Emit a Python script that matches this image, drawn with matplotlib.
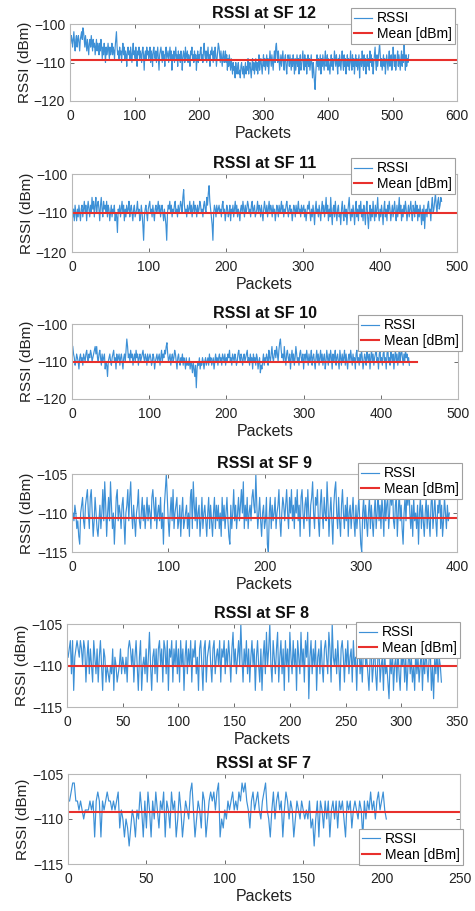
import numpy as np
import matplotlib
matplotlib.use("Agg")
import matplotlib.pyplot as plt

plt.rcParams['font.family'] = ['Liberation Sans', 'DejaVu Sans']

# ---------------- data ----------------
sf12 = [
-105,-103,-104,-106,-104,-102,-105,-107,-104,-103,
-106,-104,-103,-105,-107,-104,-103,-102,-104,-101,
-102,-104,-106,-103,-105,-107,-104,-106,-108,-105,
-104,-106,-103,-105,-107,-104,-106,-105,-108,-106,
-104,-107,-105,-106,-108,-105,-107,-104,-106,-109,
-106,-108,-105,-107,-110,-106,-108,-107,-105,-107,
-109,-106,-108,-107,-105,-108,-106,-107,-109,-106,
-104,-102,-106,-108,-107,-109,-106,-108,-107,-110,
-107,-105,-108,-106,-109,-107,-108,-111,-107,-106,
-108,-107,-109,-106,-108,-110,-107,-105,-108,-107,
-109,-106,-108,-111,-107,-108,-106,-109,-107,-108,
-110,-107,-106,-108,-112,-108,-107,-109,-106,-108,
-107,-109,-108,-106,-110,-107,-108,-111,-107,-106,
-108,-109,-107,-110,-108,-106,-109,-112,-108,-107,
-106,-108,-110,-107,-109,-108,-111,-107,-106,-109,
-108,-107,-110,-108,-106,-109,-107,-112,-108,-109,
-107,-110,-108,-106,-109,-108,-111,-107,-109,-108,
-110,-107,-108,-112,-109,-107,-108,-110,-106,-109,
-108,-107,-110,-108,-109,-111,-107,-108,-106,-109,
-108,-110,-107,-109,-108,-112,-109,-107,-110,-108,
-109,-107,-106,-109,-108,-110,-107,-105,-108,-109,
-107,-110,-108,-106,-109,-108,-111,-107,-108,-106,
-108,-110,-107,-109,-106,-108,-111,-109,-107,-105,
-106,-108,-110,-107,-109,-111,-108,-107,-110,-109,
-107,-110,-108,-112,-109,-111,-108,-110,-112,-109,
-111,-113,-110,-112,-111,-114,-110,-112,-113,-111,
-110,-113,-112,-114,-111,-110,-112,-113,-111,-114,
-112,-110,-113,-111,-112,-109,-113,-111,-110,-112,
-114,-111,-109,-112,-110,-113,-111,-109,-112,-110,
-113,-111,-108,-112,-110,-109,-111,-113,-110,-108,
-111,-109,-112,-110,-108,-111,-109,-113,-110,-107,
-109,-111,-108,-110,-112,-109,-107,-110,-106,-105,
-108,-110,-107,-109,-112,-110,-108,-111,-109,-107,
-110,-112,-109,-108,-111,-113,-110,-108,-109,-111,
-108,-110,-112,-109,-111,-108,-110,-113,-109,-112,
-110,-108,-111,-109,-113,-110,-108,-112,-111,-109,
-107,-110,-112,-108,-111,-109,-113,-110,-108,-111,
-109,-112,-110,-108,-111,-114,-110,-112,-115,-117,
-113,-110,-108,-111,-109,-112,-110,-108,-113,-109,
-111,-108,-110,-112,-109,-107,-111,-110,-108,-112,
-109,-111,-113,-110,-108,-111,-109,-112,-110,-107,
-109,-111,-108,-110,-113,-109,-111,-108,-110,-112,
-109,-107,-110,-112,-108,-111,-109,-113,-110,-108,
-111,-109,-112,-110,-107,-110,-112,-108,-111,-109,
-113,-110,-108,-111,-109,-112,-110,-108,-114,-110,
-109,-111,-107,-110,-112,-108,-111,-109,-113,-110,
-108,-111,-109,-112,-107,-110,-108,-111,-109,-113,
-110,-108,-106,-110,-112,-108,-111,-109,-107,-105,
-108,-111,-109,-112,-110,-108,-111,-109,-113,-110,
-108,-110,-112,-109,-107,-111,-109,-108,-112,-110,
-106,-109,-111,-108,-112,-110,-109,-107,-111,-108,
-110,-112,-109,-107,-111,-108,-110,-105,-109,-112,
-108,-111,-109,-110,-108]

sf11 = [
-111,-109,-112,-108,-110,-112,-109,-111,-108,-110,
-112,-109,-108,-111,-109,-107,-110,-108,-112,-109,
-107,-109,-111,-108,-110,-106,-109,-107,-111,-108,
-106,-110,-108,-107,-109,-112,-108,-106,-109,-111,
-107,-109,-108,-110,-107,-111,-108,-109,-112,-110,
-108,-111,-109,-110,-108,-112,-110,-111,-115,-109,
-110,-108,-111,-109,-107,-110,-108,-112,-109,-111,
-108,-110,-109,-107,-111,-109,-108,-110,-112,-109,
-108,-111,-110,-109,-107,-110,-109,-112,-111,-108,
-110,-113,-117,-111,-109,-108,-110,-112,-109,-108,
-107,-110,-109,-111,-108,-110,-112,-109,-108,-110,
-109,-107,-110,-108,-111,-109,-108,-110,-112,-109,
-111,-113,-117,-110,-108,-109,-107,-110,-108,-111,
-109,-110,-108,-107,-110,-109,-111,-108,-110,-109,
-107,-108,-110,-106,-104,-108,-110,-109,-111,-108,
-110,-109,-107,-110,-108,-111,-109,-107,-110,-108,
-109,-111,-108,-110,-109,-107,-108,-110,-109,-111,
-108,-107,-109,-110,-106,-108,-105,-103,-107,-109,
-111,-113,-117,-110,-108,-109,-111,-108,-110,-109,
-108,-110,-109,-111,-108,-107,-110,-109,-112,-110,
-108,-109,-111,-110,-108,-112,-109,-110,-108,-111,
-109,-107,-110,-108,-111,-109,-110,-112,-109,-108,
-110,-107,-109,-111,-108,-110,-109,-107,-108,-110,
-109,-111,-108,-107,-110,-109,-108,-111,-110,-109,
-107,-110,-108,-109,-111,-108,-110,-112,-109,-107,
-109,-110,-108,-111,-109,-107,-110,-108,-109,-111,
-108,-110,-109,-112,-110,-108,-109,-111,-108,-110,
-109,-107,-110,-108,-111,-109,-110,-108,-107,-109,
-111,-109,-108,-110,-109,-112,-110,-108,-109,-111,
-108,-110,-109,-107,-110,-109,-111,-108,-110,-109,
-108,-111,-109,-112,-110,-108,-109,-107,-110,-112,
-109,-111,-108,-110,-113,-109,-107,-110,-109,-111,
-108,-110,-112,-109,-107,-110,-108,-111,-109,-106,
-110,-108,-112,-109,-111,-106,-110,-113,-109,-108,
-111,-107,-110,-112,-109,-108,-111,-110,-113,-109,
-107,-110,-112,-108,-111,-109,-113,-110,-108,-106,
-110,-112,-109,-111,-108,-110,-113,-109,-107,-111,
-109,-112,-108,-110,-107,-111,-109,-112,-108,-110,
-113,-109,-107,-111,-114,-110,-108,-112,-109,-111,
-107,-110,-112,-108,-111,-109,-106,-110,-112,-109,
-111,-108,-110,-113,-109,-107,-111,-109,-112,-108,
-110,-107,-109,-112,-110,-108,-111,-109,-107,-110,
-112,-108,-111,-109,-106,-110,-108,-112,-109,-111,
-108,-110,-107,-109,-112,-110,-108,-111,-109,-107,
-110,-112,-108,-109,-111,-107,-110,-108,-112,-109,
-111,-108,-110,-113,-109,-112,-108,-114,-110,-109,
-111,-108,-107,-110,-109,-112,-108,-106,-110,-109,
-107,-105,-108,-110,-107,-106,-109,-108,-106,-107]

sf10 = [
-106,-108,-109,-111,-110,-108,-109,-110,-112,-109,
-108,-110,-109,-111,-108,-109,-110,-108,-107,-109,
-110,-108,-109,-107,-108,-110,-109,-108,-107,-106,
-108,-106,-109,-110,-108,-107,-109,-111,-108,-110,
-109,-108,-112,-110,-111,-114,-110,-109,-108,-110,
-111,-109,-108,-107,-110,-109,-112,-108,-110,-109,
-108,-111,-109,-108,-110,-112,-109,-108,-110,-107,
-104,-106,-109,-108,-110,-107,-109,-108,-111,-109,
-108,-110,-107,-109,-108,-111,-109,-108,-110,-109,
-108,-107,-109,-110,-108,-109,-111,-108,-110,-109,
-108,-109,-111,-110,-108,-109,-112,-110,-109,-108,
-110,-109,-108,-111,-109,-107,-110,-108,-109,-107,
-108,-106,-105,-108,-110,-109,-108,-111,-109,-108,
-110,-109,-107,-108,-110,-112,-109,-108,-110,-111,
-109,-110,-108,-111,-109,-110,-112,-109,-111,-110,
-111,-109,-112,-110,-111,-113,-110,-112,-114,-111,
-117,-112,-110,-111,-109,-112,-110,-111,-109,-110,
-112,-110,-109,-111,-110,-109,-111,-108,-110,-109,
-111,-110,-109,-112,-110,-108,-110,-109,-111,-109,
-108,-110,-109,-111,-108,-109,-110,-108,-111,-109,
-110,-108,-109,-107,-110,-109,-111,-108,-109,-110,
-108,-109,-111,-110,-108,-107,-109,-110,-108,-109,
-111,-109,-108,-110,-109,-108,-107,-110,-109,-111,
-108,-110,-109,-112,-108,-110,-109,-111,-108,-109,
-112,-110,-109,-113,-111,-112,-110,-108,-111,-109,
-110,-108,-109,-111,-107,-109,-110,-108,-106,-109,
-110,-108,-107,-109,-106,-108,-110,-107,-105,-104,
-107,-109,-108,-110,-106,-109,-111,-108,-107,-109,
-110,-108,-112,-109,-107,-110,-108,-111,-109,-106,
-108,-110,-109,-111,-108,-107,-109,-110,-108,-112,
-109,-108,-110,-107,-109,-111,-108,-110,-109,-107,
-111,-109,-108,-110,-112,-109,-107,-110,-108,-111,
-109,-107,-110,-108,-111,-109,-108,-112,-110,-107,
-109,-111,-108,-110,-107,-109,-112,-108,-110,-109,
-107,-111,-109,-108,-110,-112,-107,-109,-111,-108,
-110,-109,-107,-111,-108,-110,-112,-109,-108,-110,
-107,-109,-111,-108,-110,-109,-112,-108,-107,-110,
-109,-111,-108,-110,-107,-109,-112,-110,-108,-109,
-111,-107,-109,-110,-108,-112,-109,-107,-110,-108,
-111,-109,-108,-106,-110,-109,-112,-108,-107,-110,
-109,-111,-108,-107,-110,-109,-112,-108,-106,-110,
-109,-111,-107,-109,-110,-108,-112,-109,-107,-110,
-108,-111,-109,-106,-110,-108,-107,-109,-111,-108,
-110,-107,-109,-108,-110,-109,-111]

sf9 = [
-110,-111,-109,-110,-112,-111,-113,-114,-110,-109,
-108,-111,-112,-109,-108,-107,-110,-112,-108,-107,
-110,-113,-111,-108,-110,-112,-113,-111,-109,-112,
-110,-107,-111,-106,-109,-113,-110,-108,-111,-106,
-109,-112,-110,-114,-111,-108,-107,-111,-109,-110,
-112,-109,-108,-111,-114,-110,-109,-107,-111,-108,
-106,-110,-112,-109,-111,-113,-110,-109,-107,-111,
-112,-110,-108,-111,-109,-112,-110,-108,-111,-109,
-110,-112,-108,-107,-109,-111,-108,-112,-110,-109,
-111,-108,-112,-110,-114,-109,-107,-105,-108,-111,
-113,-110,-108,-111,-107,-112,-110,-109,-108,-112,
-111,-109,-113,-110,-108,-112,-111,-110,-109,-112,
-110,-113,-108,-107,-112,-106,-109,-111,-108,-112,
-110,-109,-113,-111,-108,-112,-110,-109,-111,-113,
-110,-108,-112,-109,-111,-113,-110,-108,-112,-109,
-111,-109,-112,-110,-113,-108,-111,-109,-112,-110,
-108,-111,-113,-114,-109,-112,-110,-107,-111,-109,
-112,-110,-108,-111,-109,-107,-110,-106,-112,-109,
-111,-108,-112,-110,-109,-111,-108,-107,-109,-110,
-105,-109,-112,-110,-108,-111,-113,-110,-109,-112,
-111,-108,-114,-115,-110,-108,-112,-109,-111,-110,
-108,-112,-110,-109,-107,-111,-113,-110,-108,-109,
-111,-109,-107,-110,-112,-108,-110,-107,-111,-109,
-112,-108,-110,-107,-111,-109,-113,-108,-107,-110,
-112,-109,-108,-111,-107,-110,-113,-109,-108,-106,
-110,-112,-108,-109,-107,-111,-113,-109,-107,-110,
-112,-108,-110,-111,-106,-109,-113,-110,-108,-111,
-114,-109,-107,-106,-110,-112,-108,-111,-113,-109,
-107,-110,-112,-109,-111,-108,-113,-110,-109,-112,
-110,-108,-111,-113,-109,-112,-110,-108,-111,-114,
-115,-110,-108,-112,-109,-111,-113,-110,-108,-112,
-109,-111,-113,-110,-108,-112,-110,-107,-111,-109,
-112,-108,-110,-113,-107,-111,-109,-108,-112,-110,
-107,-109,-106,-111,-112,-109,-108,-113,-110,-107,
-111,-109,-112,-114,-110,-108,-111,-107,-109,-106,
-110,-112,-109,-113,-108,-111,-110,-112,-109,-114,
-110,-108,-112,-109,-111,-113,-110,-108,-112,-109,
-111,-113,-109,-107,-112,-110,-108,-111,-113,-109,
-110,-106,-112,-109,-113,-111,-108,-110,-112,-109,
-111,-110]

sf8 = [
-109,-108,-107,-111,-107,-113,-109,-108,-107,-108,
-109,-107,-108,-110,-107,-108,-112,-109,-107,-111,
-108,-110,-112,-107,-109,-111,-108,-112,-109,-107,
-110,-113,-108,-109,-112,-110,-111,-112,-110,-111,
-108,-113,-109,-110,-112,-111,-110,-108,-111,-109,
-110,-111,-109,-112,-108,-107,-108,-110,-108,-112,
-109,-107,-110,-113,-109,-107,-113,-110,-109,-111,
-108,-112,-109,-106,-110,-113,-109,-108,-111,-108,
-112,-108,-107,-110,-108,-112,-107,-108,-111,-107,
-113,-108,-109,-107,-112,-108,-110,-107,-111,-108,
-112,-107,-110,-108,-113,-109,-107,-111,-108,-110,
-107,-112,-108,-109,-107,-111,-109,-113,-108,-107,
-110,-113,-108,-107,-112,-109,-108,-107,-110,-112,
-108,-107,-111,-109,-108,-110,-107,-112,-108,-109,
-107,-111,-108,-110,-107,-109,-112,-108,-106,-110,
-108,-111,-109,-107,-110,-105,-109,-112,-108,-110,
-107,-111,-108,-112,-109,-107,-110,-108,-113,-109,
-107,-110,-112,-108,-113,-109,-107,-111,-106,-110,
-108,-105,-110,-112,-107,-109,-111,-108,-106,-112,
-109,-107,-111,-108,-113,-107,-110,-108,-112,-106,
-109,-111,-107,-110,-108,-113,-107,-109,-111,-106,
-110,-108,-112,-107,-109,-106,-114,-109,-107,-111,
-108,-110,-107,-113,-109,-108,-111,-107,-110,-112,
-108,-107,-109,-111,-106,-108,-112,-105,-109,-110,
-108,-111,-107,-110,-113,-108,-107,-109,-112,-108,
-110,-107,-111,-109,-108,-112,-107,-110,-109,-113,
-108,-107,-111,-109,-112,-108,-106,-110,-109,-111,
-113,-109,-108,-112,-110,-107,-111,-113,-109,-108,
-112,-110,-109,-113,-108,-111,-110,-112,-114,-109,
-111,-108,-113,-110,-109,-112,-108,-111,-113,-109,
-110,-108,-112,-109,-113,-110,-108,-111,-109,-112,
-110,-113,-108,-111,-109,-112,-110,-108,-113,-109,
-111,-108,-110,-112,-109,-108,-113,-110,-114,-109,
-111,-108,-112,-109,-110,-112]

sf7 = [
-108,-107,-106,-106,-108,-108,-109,-108,-109,-110,
-109,-109,-109,-108,-109,-108,-112,-108,-107,-108,
-112,-108,-109,-108,-107,-108,-108,-109,-108,-109,
-108,-107,-111,-109,-110,-112,-110,-111,-113,-111,
-109,-110,-112,-109,-110,-107,-109,-112,-108,-111,
-107,-109,-112,-108,-110,-107,-109,-111,-108,-109,
-107,-112,-108,-109,-111,-107,-109,-108,-112,-110,
-107,-109,-112,-110,-108,-109,-110,-107,-106,-109,
-112,-110,-108,-109,-111,-107,-108,-112,-110,-108,
-107,-108,-107,-109,-107,-106,-112,-110,-111,-109,
-110,-108,-109,-108,-107,-109,-108,-109,-107,-108,
-106,-107,-106,-108,-109,-111,-108,-107,-109,-108,
-107,-109,-110,-108,-107,-106,-109,-110,-112,-109,
-107,-110,-108,-107,-109,-108,-112,-109,-107,-108,
-110,-108,-109,-112,-110,-108,-109,-110,-108,-109,
-110,-109,-110,-108,-111,-110,-113,-110,-108,-112,
-108,-109,-111,-108,-110,-108,-112,-109,-108,-110,
-108,-111,-108,-109,-108,-110,-112,-108,-109,-108,
-111,-109,-108,-109,-110,-108,-109,-112,-108,-110,
-108,-109,-107,-109,-108,-110,-108,-107,-109,-108,
-107,-109,-110]

series = [sf12, sf11, sf10, sf9, sf8, sf7]
titles = ["RSSI at SF 12", "RSSI at SF 11", "RSSI at SF 10",
          "RSSI at SF 9", "RSSI at SF 8", "RSSI at SF 7"]
means = [-109.4, -109.9, -110.0, -110.6, -110.0, -109.2]
mean_end = [600, 500, 447, 400, 350, 250]
xlims = [600, 500, 500, 400, 350, 250]
xsteps = [100, 100, 100, 100, 50, 50]
ylims = [(-120, -100), (-120, -100), (-120, -100),
         (-115, -105), (-115, -105), (-115, -105)]
ysteps = [10, 10, 10, 5, 5, 5]

# ---------------- layout (pixels) ----------------
W, H = 475, 911
boxes = [(70, 457, 24, 101), (72, 457, 174, 252), (72, 458, 324, 399),
         (72, 457, 474, 552), (67, 457, 624, 707), (68, 460, 774, 864)]
legend_anchor = [(455, 8, 'upper right'), (455, 158, 'upper right'),
                 (462, 315, 'upper right'), (462, 463, 'upper right'),
                 (460, 622, 'upper right'), (463, 865, 'lower right')]

fig = plt.figure(figsize=(W / 100, H / 100), dpi=100)
blue = '#3d90d6'
red = '#e8302c'

for i in range(6):
    l, r, t, b = boxes[i]
    ax = fig.add_axes([l / W, 1 - b / H, (r - l) / W, (b - t) / H])
    y = np.array(series[i])
    x = np.arange(1, len(y) + 1)
    ax.plot(x, y, color=blue, lw=0.85, label='RSSI')
    ax.plot([0, mean_end[i]], [means[i], means[i]], color=red, lw=1.5,
            label='Mean [dBm]')
    ax.set_xlim(0, xlims[i])
    ax.set_ylim(*ylims[i])
    ax.set_xticks(np.arange(0, xlims[i] + 1, xsteps[i]))
    ax.set_yticks(np.arange(ylims[i][0], ylims[i][1] + 1, ysteps[i]))
    ax.tick_params(direction='in', top=True, right=True, length=3,
                   width=0.6, colors='#555555', labelcolor='#222222',
                   labelsize=10)
    ax.tick_params(axis='x', pad=6)
    ax.tick_params(axis='y', pad=3.5)
    for s in ax.spines.values():
        s.set_color('#b8b8b8')
        s.set_linewidth(0.8)
    ax.set_title(titles[i], fontsize=11.5, fontweight='bold', pad=4,
                 color='#111111')
    ax.set_xlabel('Packets', fontsize=11.5, labelpad=2, color='#222222')
    ax.set_ylabel('RSSI (dBm)', fontsize=11, labelpad=1, color='#222222')
    lx, ly, loc = legend_anchor[i]
    leg = ax.legend(loc=loc, bbox_to_anchor=(lx / W, 1 - ly / H),
                    bbox_transform=fig.transFigure, borderaxespad=0,
                    fontsize=10, handlelength=1.3, handletextpad=0.3,
                    borderpad=0.25, labelspacing=0.1, fancybox=False,
                    framealpha=1, edgecolor='#a0a0a0')
    leg.get_frame().set_linewidth(0.8)

fig.savefig('out.png', dpi=100)
